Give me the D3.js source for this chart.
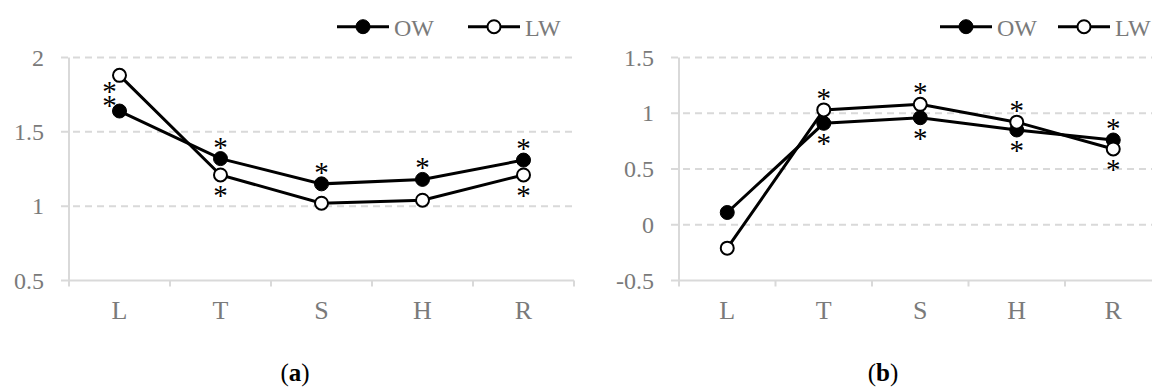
<!DOCTYPE html>
<html>
<head>
<meta charset="utf-8">
<script src="https://cdn.jsdelivr.net/npm/d3@7"></script>
<style>
	body { margin: 0; background: #fff; }
	svg { display: block; }
</style>
</head>
<body>
<svg id="chart" width="1152" height="387"></svg>
<script>
// data
var categories = [ 'L', 'T', 'S', 'H', 'R' ];
var seriesNames = [ 'OW', 'LW' ];
var owA = [ 1.64, 1.32, 1.15, 1.18, 1.31 ];
var lwA = [ 1.88, 1.21, 1.02, 1.04, 1.21 ];
var owB = [ 0.11, 0.91, 0.96, 0.85, 0.76 ];
var lwB = [ -0.21, 1.03, 1.08, 0.92, 0.68 ];
var ticksA = [ 0.5, 1, 1.5, 2 ];
var ticksB = [ -0.5, 0, 0.5, 1, 1.5 ];
var tickLabelsA = [ '0.5', '1', '1.5', '2' ];
var tickLabelsB = [ '-0.5', '0', '0.5', '1', '1.5' ];
// significant points (asterisks): series, category, side
var sigA = [
	  [ 'OW', 'L', 'left' ], [ 'LW', 'L', 'left' ]
	, [ 'OW', 'T', 'top' ], [ 'LW', 'T', 'bottom' ]
	, [ 'OW', 'S', 'top' ]
	, [ 'OW', 'H', 'top' ]
	, [ 'OW', 'R', 'top' ], [ 'LW', 'R', 'bottom' ]
];
var sigB = [
	  [ 'LW', 'T', 'top' ], [ 'OW', 'T', 'bottom' ]
	, [ 'LW', 'S', 'top' ], [ 'OW', 'S', 'bottom' ]
	, [ 'LW', 'H', 'top' ], [ 'OW', 'H', 'bottom' ]
	, [ 'OW', 'R', 'top' ], [ 'LW', 'R', 'bottom' ]
];
var captions = [ 'a', 'b' ];

var C = {
	  grid  : '#d9d9d9'
	, label : '#7a7a7a'
	, line  : '#000'
	, font  : '"Liberation Serif", "Times New Roman", serif'
}

var svg = d3.select( '#chart' );

function drawPanel( opt ) {
	var g = svg.append( 'g' );
	var x = d3.scaleBand()
				.domain( categories )
				.range( [ opt.left, opt.right ] );
	var y = d3.scaleLinear()
				.domain( d3.extent( opt.ticks ) )
				.range( [ 280.5, 57.5 ] );
	var cx = d => x( d ) + x.bandwidth() / 2;
	// gridlines (dashed) + y ticks
	g.selectAll( '.grid' )
		.data( opt.ticks.slice( 1 ) )
		.join( 'line' )
		.attr( 'x1', opt.left - 8 )
		.attr( 'x2', opt.right )
		.attr( 'y1', d => y( d ) )
		.attr( 'y2', d => y( d ) )
		.attr( 'stroke', C.grid )
		.attr( 'stroke-width', 2 )
		.attr( 'stroke-dasharray', '7,5' );
	// axes
	g.append( 'line' )
		.attr( 'x1', opt.left ).attr( 'x2', opt.left )
		.attr( 'y1', y.range()[ 1 ] ).attr( 'y2', y.range()[ 0 ] + 6 )
		.attr( 'stroke', C.grid ).attr( 'stroke-width', 2 );
	g.append( 'line' )
		.attr( 'x1', opt.left - 8 ).attr( 'x2', opt.right )
		.attr( 'y1', y.range()[ 0 ] ).attr( 'y2', y.range()[ 0 ] )
		.attr( 'stroke', C.grid ).attr( 'stroke-width', 2 );
	var bounds = categories.map( d => x( d ) ).concat( [ opt.right ] );
	g.selectAll( '.xtick' )
		.data( bounds.slice( 1 ) )
		.join( 'line' )
		.attr( 'x1', d => d ).attr( 'x2', d => d )
		.attr( 'y1', y.range()[ 0 ] ).attr( 'y2', y.range()[ 0 ] + 6 )
		.attr( 'stroke', C.grid ).attr( 'stroke-width', 2 );
	// tick labels
	g.selectAll( '.ylab' )
		.data( opt.ticks )
		.join( 'text' )
		.attr( 'x', opt.left - 25 )
		.attr( 'y', d => y( d ) + 8 )
		.attr( 'text-anchor', 'end' )
		.attr( 'font-family', C.font )
		.attr( 'font-size', 24 )
		.attr( 'fill', C.label )
		.text( ( d, i ) => opt.tickLabels[ i ] );
	g.selectAll( '.xlab' )
		.data( categories )
		.join( 'text' )
		.attr( 'x', cx )
		.attr( 'y', 319 )
		.attr( 'text-anchor', 'middle' )
		.attr( 'font-family', C.font )
		.attr( 'font-size', 26 )
		.attr( 'fill', C.label )
		.text( d => d );
	// lines + markers
	var line = d3.line()
				.x( ( d, i ) => cx( categories[ i ] ) )
				.y( d => y( d ) );
	var values = { OW: opt.ow, LW: opt.lw };
	seriesNames.forEach( name => {
		g.append( 'path' )
			.attr( 'd', line( values[ name ] ) )
			.attr( 'fill', 'none' )
			.attr( 'stroke', C.line )
			.attr( 'stroke-width', 3 );
	} );
	seriesNames.forEach( name => {
		g.selectAll( null )
			.data( values[ name ] )
			.join( 'circle' )
			.attr( 'cx', ( d, i ) => cx( categories[ i ] ) )
			.attr( 'cy', d => y( d ) )
			.attr( 'r', name === 'OW' ? 7 : 6.5 )
			.attr( 'fill', name === 'OW' ? C.line : '#fff' )
			.attr( 'stroke', C.line )
			.attr( 'stroke-width', name === 'OW' ? 1 : 2 );
	} );
	// asterisks
	g.selectAll( '.sig' )
		.data( opt.sig )
		.join( 'text' )
		.attr( 'x', d => cx( d[ 1 ] ) + ( d[ 2 ] === 'left' ? -10 : 0 ) )
		.attr( 'y', d => {
			var i  = categories.indexOf( d[ 1 ] );
			var py = y( values[ d[ 0 ] ][ i ] );
			if ( d[ 2 ] === 'top' ) return py - 2;
			if ( d[ 2 ] === 'bottom' ) return py + 30;
			// left: lean toward the other series
			var other = values[ d[ 0 ] === 'OW' ? 'LW' : 'OW' ][ i ];
			return y( other ) < py ? py + 4 : py + 26;
		} )
		.attr( 'text-anchor', 'middle' )
		.attr( 'font-family', C.font )
		.attr( 'font-size', 29 )
		.attr( 'fill', '#000' )
		.text( '*' );
	// legend
	seriesNames.forEach( ( name, i ) => {
		var lx = opt.legend[ i ];
		var ly = 26.7;
		g.append( 'line' )
			.attr( 'x1', lx ).attr( 'x2', lx + 52 )
			.attr( 'y1', ly ).attr( 'y2', ly )
			.attr( 'stroke', C.line ).attr( 'stroke-width', 3 );
		g.append( 'circle' )
			.attr( 'cx', lx + 26 ).attr( 'cy', ly )
			.attr( 'r', name === 'OW' ? 7 : 6.5 )
			.attr( 'fill', name === 'OW' ? C.line : '#fff' )
			.attr( 'stroke', C.line )
			.attr( 'stroke-width', name === 'OW' ? 1 : 2 );
		g.append( 'text' )
			.attr( 'x', lx + 57 ).attr( 'y', ly + 9 )
			.attr( 'font-family', C.font )
			.attr( 'font-size', 24 )
			.attr( 'fill', C.label )
			.text( name );
	} );
	// caption
	var cap = g.append( 'text' )
		.attr( 'x', opt.captionX ).attr( 'y', 381 )
		.attr( 'text-anchor', 'middle' )
		.attr( 'font-family', C.font )
		.attr( 'font-size', 25 )
		.attr( 'fill', '#000' );
	cap.append( 'tspan' ).text( '(' );
	cap.append( 'tspan' ).attr( 'font-weight', 'bold' ).text( opt.caption );
	cap.append( 'tspan' ).text( ')' );
}

drawPanel( {
	  left       : 69
	, right      : 574
	, ticks      : ticksA
	, tickLabels : tickLabelsA
	, ow         : owA
	, lw         : lwA
	, sig        : sigA
	, legend     : [ 337, 468 ]
	, caption    : captions[ 0 ]
	, captionX   : 295
} );
drawPanel( {
	  left       : 679
	, right      : 1161.5
	, ticks      : ticksB
	, tickLabels : tickLabelsB
	, ow         : owB
	, lw         : lwB
	, sig        : sigB
	, legend     : [ 940, 1058 ]
	, caption    : captions[ 1 ]
	, captionX   : 883
} );
</script>
</body>
</html>
